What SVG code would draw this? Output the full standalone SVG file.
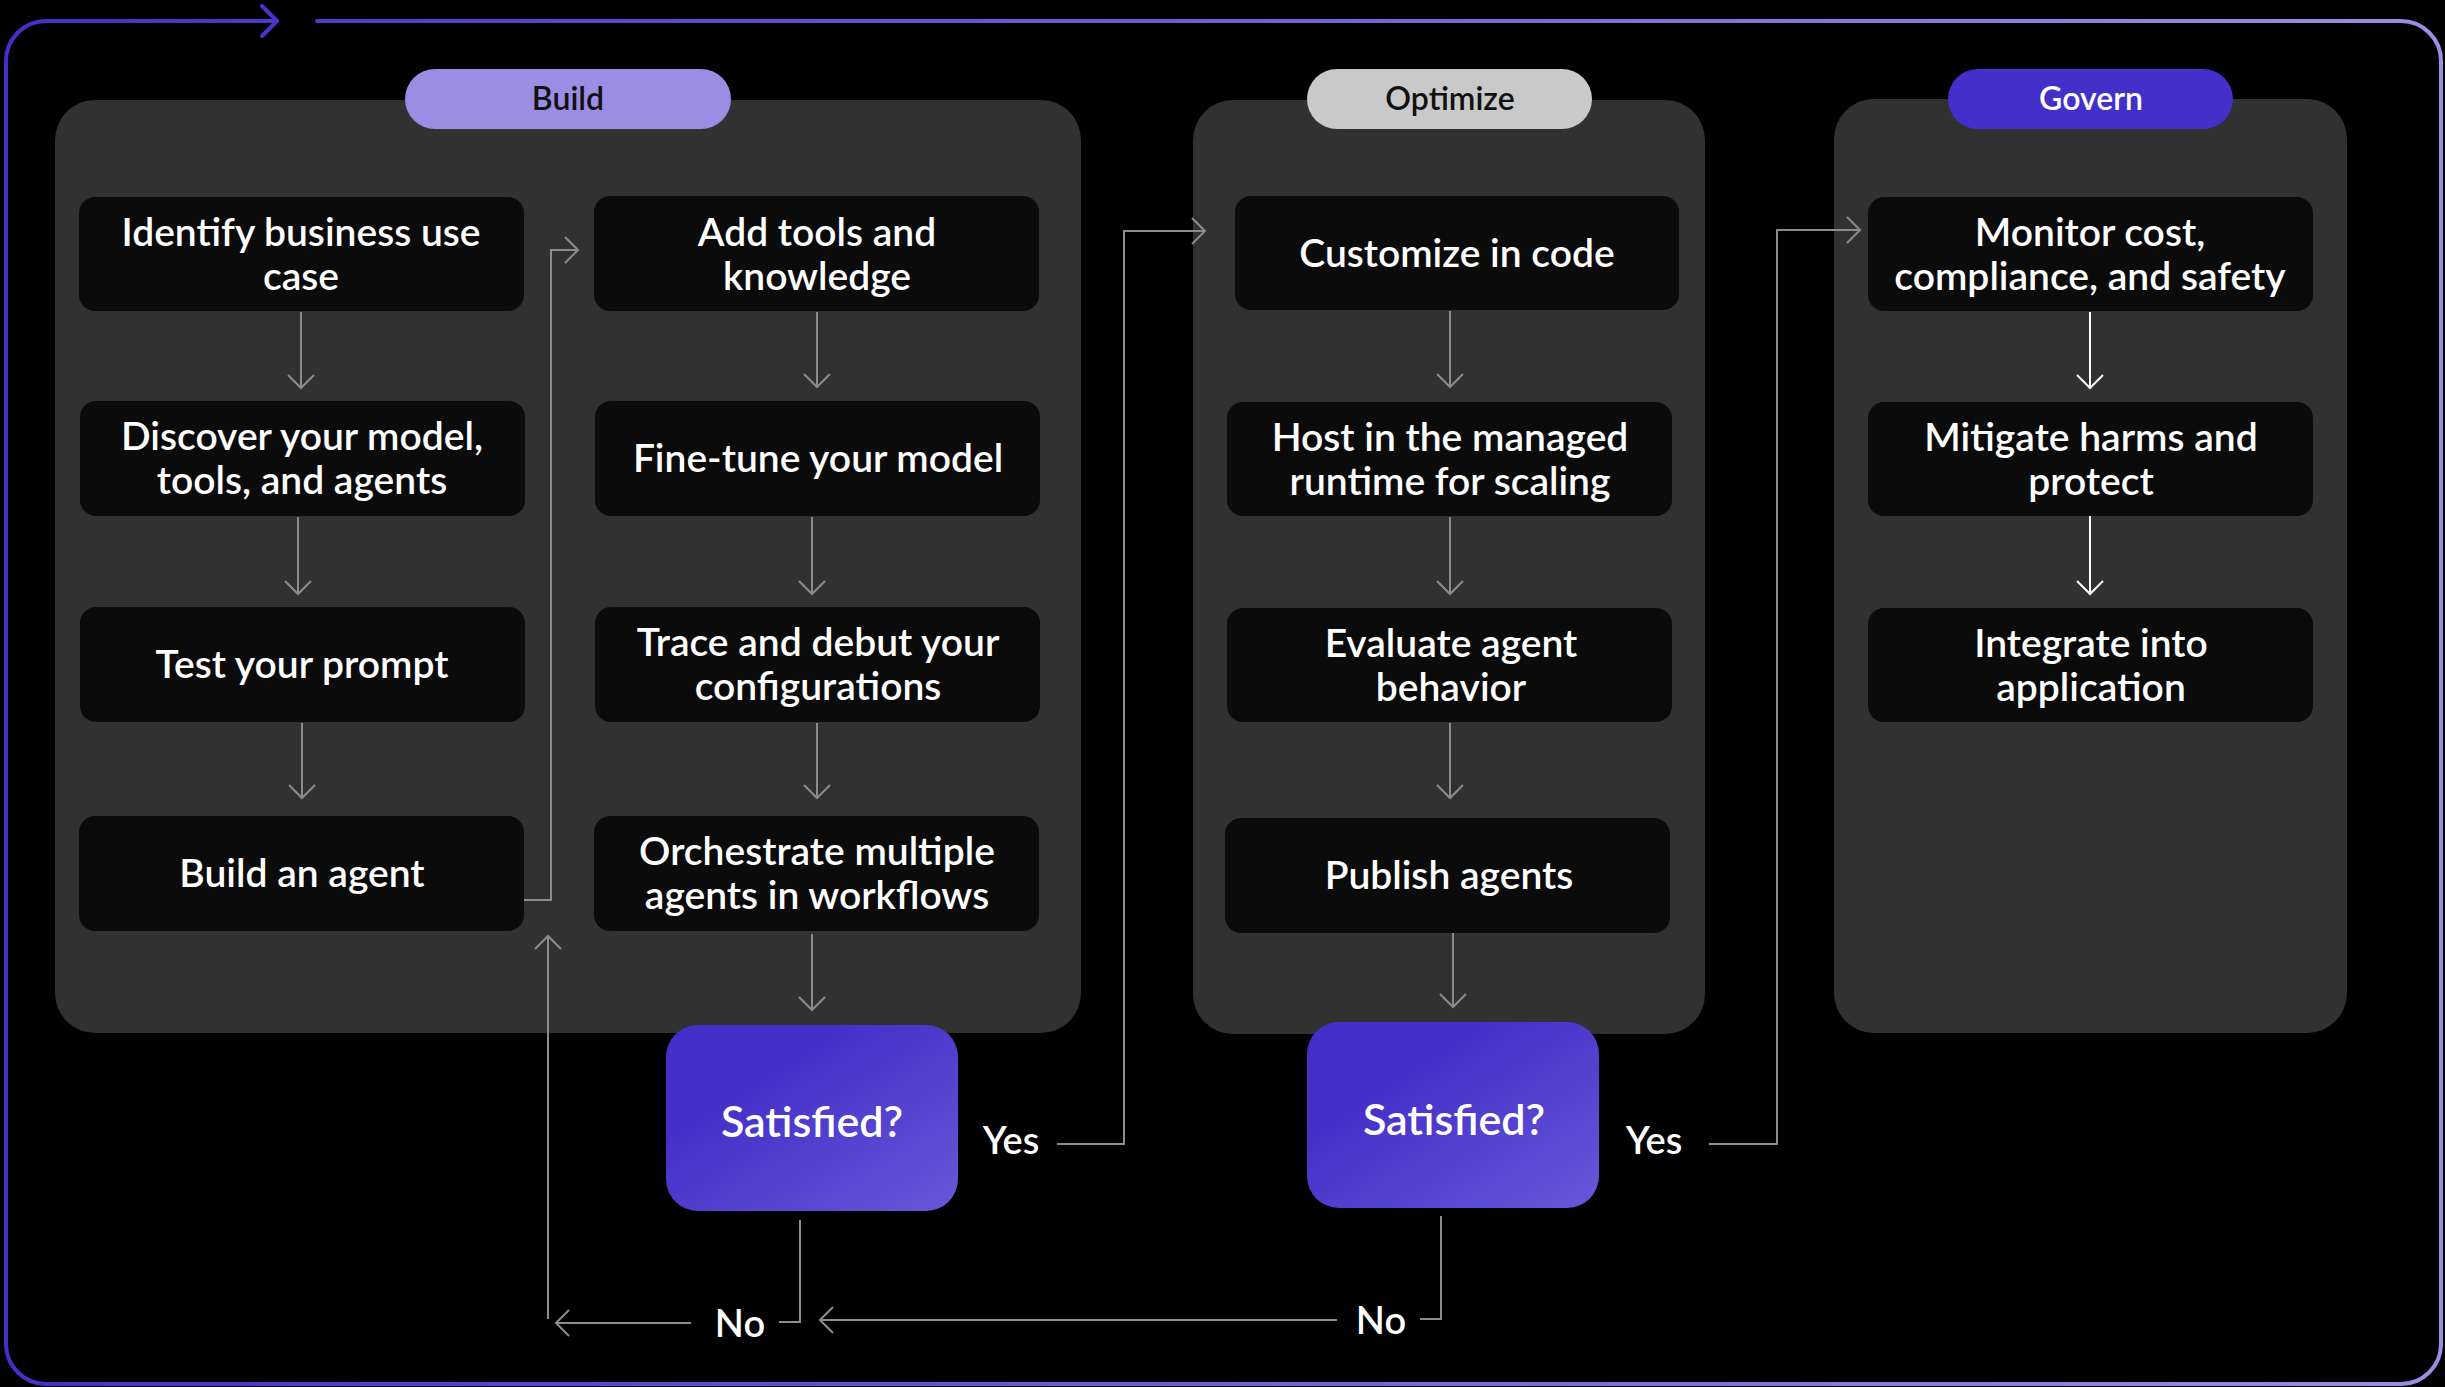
<svg xmlns="http://www.w3.org/2000/svg" width="2445" height="1387" viewBox="0 0 2445 1387">
<style>
.panel{fill:#313131}
.node{fill:#0b0b0b}
.t{font-family:Lato,"Noto Sans","Liberation Sans",sans-serif;font-size:39px;fill:#ffffff;text-anchor:middle;font-weight:600}
.pt{font-family:Lato,"Noto Sans","Liberation Sans",sans-serif;font-size:32px;text-anchor:middle;font-weight:600}
.lbl{font-family:Lato,"Noto Sans","Liberation Sans",sans-serif;font-size:38px;fill:#ffffff;text-anchor:middle;font-weight:600}
.sat{font-family:Lato,"Noto Sans","Liberation Sans",sans-serif;font-size:43px;fill:#ffffff;text-anchor:middle;font-weight:600}
.c{fill:none;stroke:#8c8c8c;stroke-width:2}
.cw{fill:none;stroke:#ffffff;stroke-width:2}
</style>
<defs>
<linearGradient id="border" gradientUnits="userSpaceOnUse" x1="0" y1="0" x2="2445" y2="0">
<stop offset="0" stop-color="#4330c8"/>
<stop offset="1" stop-color="#9b8ee3"/>
</linearGradient>
<linearGradient id="satg" x1="0" y1="0" x2="1" y2="1">
<stop offset="0.3" stop-color="#4430c9"/>
<stop offset="1" stop-color="#6858d8"/>
</linearGradient>
<marker id="ah" viewBox="0 0 30 30" refX="15" refY="15" markerWidth="30" markerHeight="30" orient="auto" markerUnits="userSpaceOnUse">
<path d="M2,2 L15,15 L2,28" fill="none" stroke="#8c8c8c" stroke-width="2"/>
</marker>
<marker id="ahw" viewBox="0 0 30 30" refX="15" refY="15" markerWidth="30" markerHeight="30" orient="auto" markerUnits="userSpaceOnUse">
<path d="M2,2 L15,15 L2,28" fill="none" stroke="#ffffff" stroke-width="2"/>
</marker>
</defs>
<rect width="2445" height="1387" fill="#000000"/>
<g id="frame">
<path d="M317,21 H2401 A40,40 0 0 1 2441,61 V1344 A40,40 0 0 1 2401,1384 H46 A40,40 0 0 1 6,1344 V61 A40,40 0 0 1 46,21 H277" fill="none" stroke="url(#border)" stroke-width="4" stroke-linecap="round"/>
<path d="M262,6 L277,21 L262,36" fill="none" stroke="#4834cb" stroke-width="4" stroke-linecap="round" stroke-linejoin="round"/>
</g>
<g id="panel-build">
<rect class="panel" x="55" y="100" width="1026" height="933" rx="40"/>
<rect x="405" y="69" width="326" height="60" rx="30" fill="#9b8de4"/>
<text class="pt" x="568" y="110" fill="#111111">Build</text>
</g>
<g id="panel-optimize">
<rect class="panel" x="1193" y="100" width="512" height="934" rx="40"/>
<rect x="1307" y="69" width="285" height="60" rx="30" fill="#c9c9c9"/>
<text class="pt" x="1450" y="110" fill="#111111">Optimize</text>
</g>
<g id="panel-govern">
<rect class="panel" x="1834" y="99" width="513" height="934" rx="40"/>
<rect x="1948" y="69" width="285" height="60" rx="30" fill="#4430c8"/>
<text class="pt" x="2091" y="110" fill="#ffffff">Govern</text>
</g>
<g id="n-identify">
<rect class="node" x="79" y="197" width="445" height="114" rx="16"/>
<text class="t" x="301" y="246">Identify business use</text>
<text class="t" x="301" y="290">case</text>
</g>
<g id="n-discover">
<rect class="node" x="80" y="401" width="445" height="115" rx="16"/>
<text class="t" x="302" y="450">Discover your model,</text>
<text class="t" x="302" y="494">tools, and agents</text>
</g>
<g id="n-test">
<rect class="node" x="80" y="607" width="445" height="115" rx="16"/>
<text class="t" x="302" y="678">Test your prompt</text>
</g>
<g id="n-buildagent">
<rect class="node" x="79" y="816" width="445" height="115" rx="16"/>
<text class="t" x="302" y="887">Build an agent</text>
</g>
<g id="n-addtools">
<rect class="node" x="594" y="196" width="445" height="115" rx="16"/>
<text class="t" x="817" y="246">Add tools and</text>
<text class="t" x="817" y="290">knowledge</text>
</g>
<g id="n-finetune">
<rect class="node" x="595" y="401" width="445" height="115" rx="16"/>
<text class="t" x="818" y="472">Fine-tune your model</text>
</g>
<g id="n-trace">
<rect class="node" x="595" y="607" width="445" height="115" rx="16"/>
<text class="t" x="818" y="656">Trace and debut your</text>
<text class="t" x="818" y="700">configurations</text>
</g>
<g id="n-orchestrate">
<rect class="node" x="594" y="816" width="445" height="115" rx="16"/>
<text class="t" x="817" y="865">Orchestrate multiple</text>
<text class="t" x="817" y="909">agents in workflows</text>
</g>
<g id="n-sat1">
<rect x="666" y="1025" width="292" height="186" rx="32" fill="url(#satg)"/>
<text class="sat" x="812" y="1137">Satisfied?</text>
</g>
<g id="n-customize">
<rect class="node" x="1235" y="196" width="444" height="114" rx="16"/>
<text class="t" x="1457" y="267">Customize in code</text>
</g>
<g id="n-host">
<rect class="node" x="1227" y="402" width="445" height="114" rx="16"/>
<text class="t" x="1450" y="451">Host in the managed</text>
<text class="t" x="1450" y="495">runtime for scaling</text>
</g>
<g id="n-evaluate">
<rect class="node" x="1227" y="608" width="445" height="114" rx="16"/>
<text class="t" x="1451" y="657">Evaluate agent</text>
<text class="t" x="1451" y="701">behavior</text>
</g>
<g id="n-publish">
<rect class="node" x="1225" y="818" width="445" height="115" rx="16"/>
<text class="t" x="1449" y="889">Publish agents</text>
</g>
<g id="n-sat2">
<rect x="1307" y="1022" width="292" height="186" rx="32" fill="url(#satg)"/>
<text class="sat" x="1454" y="1135">Satisfied?</text>
</g>
<g id="n-monitor">
<rect class="node" x="1868" y="197" width="445" height="114" rx="16"/>
<text class="t" x="2090" y="246">Monitor cost,</text>
<text class="t" x="2090" y="290">compliance, and safety</text>
</g>
<g id="n-mitigate">
<rect class="node" x="1868" y="402" width="445" height="114" rx="16"/>
<text class="t" x="2091" y="451">Mitigate harms and</text>
<text class="t" x="2091" y="495">protect</text>
</g>
<g id="n-integrate">
<rect class="node" x="1868" y="608" width="445" height="114" rx="16"/>
<text class="t" x="2091" y="657">Integrate into</text>
<text class="t" x="2091" y="701">application</text>
</g>
<g id="connectors">
<path class="c" d="M301,312 V388" marker-end="url(#ah)"/>
<path class="c" d="M298,517 V594" marker-end="url(#ah)"/>
<path class="c" d="M302,723 V798" marker-end="url(#ah)"/>
<path class="c" d="M524,900 H551 V250 H578" marker-end="url(#ah)"/>
<path class="c" d="M817,312 V387" marker-end="url(#ah)"/>
<path class="c" d="M812,517 V594" marker-end="url(#ah)"/>
<path class="c" d="M817,723 V798" marker-end="url(#ah)"/>
<path class="c" d="M812,934 V1010" marker-end="url(#ah)"/>
<path class="c" d="M1450,311 V387" marker-end="url(#ah)"/>
<path class="c" d="M1450,517 V594" marker-end="url(#ah)"/>
<path class="c" d="M1450,723 V798" marker-end="url(#ah)"/>
<path class="c" d="M1453,933 V1007" marker-end="url(#ah)"/>
<path class="cw" d="M2090,312 V388" marker-end="url(#ahw)"/>
<path class="cw" d="M2090,516 V594" marker-end="url(#ahw)"/>
<path class="c" d="M1057,1144 H1124 V231 H1205" marker-end="url(#ah)"/>
<path class="c" d="M1709,1144 H1777 V230 H1860" marker-end="url(#ah)"/>
<path class="c" d="M800,1220 V1322 H779"/>
<path class="c" d="M691,1323 H556" marker-end="url(#ah)"/>
<path class="c" d="M548,1319 V936" marker-end="url(#ah)"/>
<path class="c" d="M1441,1216 V1319 H1420"/>
<path class="c" d="M1337,1320 H820" marker-end="url(#ah)"/>
<text class="lbl" x="1011" y="1154">Yes</text>
<text class="lbl" x="1654" y="1154">Yes</text>
<text class="lbl" x="740" y="1337">No</text>
<text class="lbl" x="1381" y="1334">No</text>
</g>
</svg>
